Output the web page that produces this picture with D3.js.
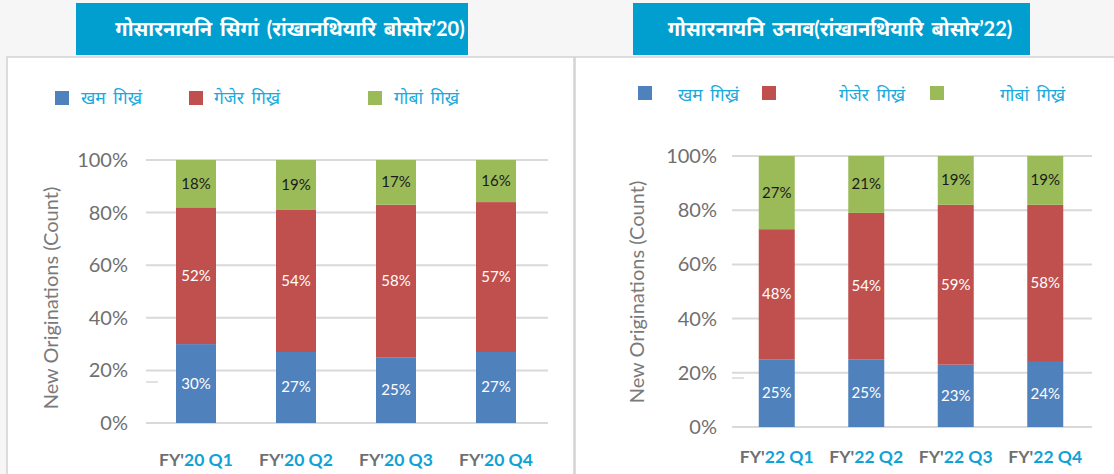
<!DOCTYPE html>
<html>
<head>
<meta charset="utf-8">
<script src="https://cdn.jsdelivr.net/npm/d3@7"></script>
<style>
  body { margin: 0; background: #f6f6f6; }
  svg { display: block; font-family: Lato, "Open Sans", "Noto Sans", sans-serif; }
</style>
</head>
<body>
<script>
/*global d3*/

var width = 1114, height = 474;

// data
var seriesNames = ["खम गिख्रं", "गेजेर गिख्रं", "गोबां गिख्रं"];
var seriesColors = ["#4f81bd", "#c0504d", "#9bbb59"];
var labelColors = ["#ffffff", "#ffffff", "#1a1a1a"];
var yTicks = [0, 20, 40, 60, 80, 100];

var quarters20 = ["20 Q1", "20 Q2", "20 Q3", "20 Q4"];
var kham20 = [30, 27, 25, 27];
var gejer20 = [52, 54, 58, 57];
var goba20 = [18, 19, 17, 16];

var quarters22 = ["22 Q1", "22 Q2", "22 Q3", "22 Q4"];
var kham22 = [25, 25, 23, 24];
var gejer22 = [48, 54, 59, 58];
var goba22 = [27, 21, 19, 19];

var svg = d3.select("body")
    .append("svg")
    .attr("width", width)
    .attr("height", height);

// page + panels
svg.append("rect").attr("width", width).attr("height", height).attr("fill", "#f6f6f6");
svg.append("rect").attr("x", 7).attr("y", 57).attr("width", 567).attr("height", 420)
    .attr("fill", "#fff").attr("stroke", "#d2d2d2").attr("stroke-width", 1.5);
svg.append("rect").attr("x", 575).attr("y", 57).attr("width", 545).attr("height", 420)
    .attr("fill", "#fff").attr("stroke", "#d2d2d2").attr("stroke-width", 1.5);

function drawChart(opt) {
    var g = svg.append("g");

    // title box
    g.append("rect")
        .attr("x", opt.titleBox[0]).attr("y", 3)
        .attr("width", opt.titleBox[1]).attr("height", 52)
        .attr("fill", "#009fd0");
    g.append("text")
        .attr("x", opt.titleX).attr("y", 36)
        .attr("text-anchor", "middle")
        .attr("fill", "#fff")
        .attr("font-size", 20)
        .attr("font-weight", "bold")
        .attr("word-spacing", 3)
        .text(opt.title);

    // legend
    seriesNames.forEach(function (name, i) {
        g.append("rect")
            .attr("x", opt.legendSwatch[i]).attr("y", opt.legendY - 13)
            .attr("width", 14).attr("height", 14)
            .attr("fill", seriesColors[i]);
        g.append("text")
            .attr("x", opt.legendText[i]).attr("y", opt.legendY + opt.legendDy)
            .attr("fill", "#1aa9dd")
            .attr("font-size", 17.5)
            .attr("word-spacing", 3)
            .text(name);
    });

    var rows = opt.quarters.map(function (q, i) {
        return { q: q, a: opt.values[0][i], b: opt.values[1][i], c: opt.values[2][i] };
    });
    var stack = d3.stack().keys(["a", "b", "c"])(rows);

    var x = d3.scaleBand().domain(opt.quarters).range(opt.xRange).paddingInner(opt.pad).paddingOuter(opt.pad / 2);
    var y = d3.scaleLinear().domain([0, 100]).range(opt.yRange).clamp(true);

    // gridlines
    g.selectAll(".grid").data(yTicks).enter().append("line")
        .attr("x1", opt.xRange[0]).attr("x2", opt.xRange[1] + 2)
        .attr("y1", function (d) { return y(d); })
        .attr("y2", function (d) { return y(d); })
        .attr("stroke", "#d9d9d9").attr("stroke-width", 2);
    g.append("line")
        .attr("x1", opt.xRange[0]).attr("x2", opt.xRange[0] + 12)
        .attr("y1", opt.stray).attr("y2", opt.stray)
        .attr("stroke", "#d9d9d9").attr("stroke-width", 1.5);

    // y axis labels
    var yAxis = d3.axisLeft(y).tickValues(yTicks).tickSize(0).tickPadding(0)
        .tickFormat(function (d) { return d + "%"; });
    var ya = g.append("g").attr("transform", "translate(" + opt.tickX + ",0)").call(yAxis);
    ya.select(".domain").remove();
    ya.selectAll("text").attr("fill", "#6f6f6f").attr("font-size", 20)
        .attr("font-family", "Lato, 'Open Sans', sans-serif");

    g.append("text")
        .attr("transform", "translate(" + opt.titleYX + "," + opt.titleYY + ") rotate(-90)")
        .attr("text-anchor", "middle")
        .attr("fill", "#7a7a7a")
        .attr("font-size", 20)
        .text("New Originations (Count)");

    // bars
    var bw = opt.barWidth;
    stack.forEach(function (layer, si) {
        var lg = g.append("g");
        lg.selectAll("rect").data(layer).enter().append("rect")
            .attr("x", function (d) { return x(d.data.q) + x.bandwidth() / 2 - bw / 2; })
            .attr("y", function (d) { return y(d[1]); })
            .attr("width", bw)
            .attr("height", function (d) { return y(d[0]) - y(d[1]); })
            .attr("fill", seriesColors[si]);
        lg.selectAll("text").data(layer).enter().append("text")
            .attr("x", function (d) { return x(d.data.q) + x.bandwidth() / 2; })
            .attr("y", function (d) { return (y(d[0]) + y(d[1])) / 2 + 5; })
            .attr("text-anchor", "middle")
            .attr("fill", labelColors[si])
            .attr("font-size", 15)
            .text(function (d) { return (d[1] - d[0]) + "%"; });
    });

    // x labels
    var xl = g.selectAll(".xl").data(opt.quarters).enter().append("text")
        .attr("x", function (d) { return x(d) + x.bandwidth() / 2; })
        .attr("y", opt.xLabelY)
        .attr("text-anchor", "middle")
        .attr("font-size", 17.5)
        .attr("font-weight", "bold");
    xl.append("tspan").attr("fill", "#6f6f6f").text("FY'");
    xl.append("tspan").attr("fill", "#10a2d6").text(function (d) { return d; });
}

drawChart({
    title: "गोसारनायनि सिगां (रांखानथियारि बोसोर’20)",
    titleBox: [76, 392], titleX: 290,
    legendSwatch: [55, 189, 368], legendText: [81, 214, 394], legendY: 104, legendDy: 0,
    quarters: quarters20,
    values: [kham20, gejer20, goba20],
    xRange: [146, 546], pad: 0.6, barWidth: 40,
    yRange: [423, 160],
    tickX: 128, titleYX: 58, titleYY: 298,
    stray: 382, xLabelY: 466
});

drawChart({
    title: "गोसारनायनि उनाव(रांखानथियारि बोसोर’22)",
    titleBox: [633, 397], titleX: 840,
    legendSwatch: [638, 762, 930], legendText: [678, 839, 1000], legendY: 99, legendDy: 2,
    quarters: quarters22,
    values: [kham22, gejer22, goba22],
    xRange: [732, 1090], pad: 0.6, barWidth: 36,
    yRange: [427, 156],
    tickX: 717, titleYX: 644, titleYY: 292,
    stray: 378, xLabelY: 463
});
</script>
</body>
</html>
